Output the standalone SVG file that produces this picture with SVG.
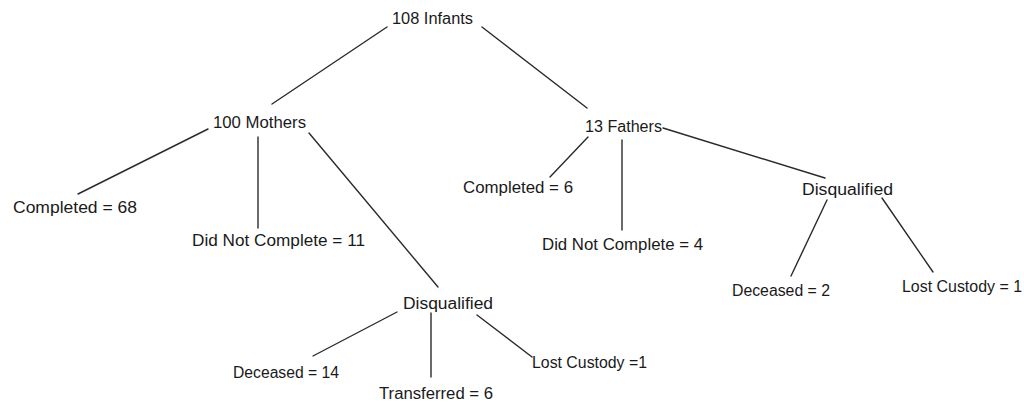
<svg xmlns="http://www.w3.org/2000/svg" width="1024" height="402" viewBox="0 0 1024 402">
<style>
text { font-family: "Liberation Sans", Arial, sans-serif; font-size: 16px; fill: #1a1a1a; }
.c line { stroke: #2a2a2a; stroke-width: 1.4; stroke-linecap: round; }
</style>
<rect width="1024" height="402" fill="#ffffff"/>
<g id="connectors" class="c">
<line x1="387" y1="27" x2="272" y2="104"/>
<line x1="482" y1="27" x2="587" y2="108"/>
<line x1="208" y1="129" x2="78" y2="194"/>
<line x1="258" y1="137" x2="258" y2="228"/>
<line x1="309" y1="133" x2="438" y2="287"/>
<line x1="588" y1="137" x2="550" y2="177"/>
<line x1="622" y1="140" x2="622" y2="230"/>
<line x1="663" y1="128" x2="825" y2="178"/>
<line x1="827" y1="200" x2="791" y2="276"/>
<line x1="882" y1="198" x2="933" y2="272"/>
<line x1="397" y1="312" x2="313" y2="356"/>
<line x1="431" y1="313" x2="431" y2="377"/>
<line x1="477" y1="315" x2="532" y2="357"/>
</g>
<g id="infants"><text x="392" y="24" textLength="81" lengthAdjust="spacingAndGlyphs">108 Infants</text></g>
<g id="mothers"><text x="213" y="128" textLength="93" lengthAdjust="spacingAndGlyphs">100 Mothers</text></g>
<g id="fathers"><text x="585" y="132" textLength="77" lengthAdjust="spacingAndGlyphs">13 Fathers</text></g>
<g id="m-completed"><text x="13" y="213" textLength="124" lengthAdjust="spacingAndGlyphs">Completed =  68</text></g>
<g id="m-dnc"><text x="192" y="246" textLength="173" lengthAdjust="spacingAndGlyphs">Did Not Complete =  11</text></g>
<g id="m-disq"><text x="403" y="309" textLength="90" lengthAdjust="spacingAndGlyphs">Disqualified</text></g>
<g id="m-deceased"><text x="233" y="378" textLength="106" lengthAdjust="spacingAndGlyphs">Deceased = 14</text></g>
<g id="m-transferred"><text x="379" y="399" textLength="114" lengthAdjust="spacingAndGlyphs">Transferred = 6</text></g>
<g id="m-lost"><text x="532" y="368" textLength="115" lengthAdjust="spacingAndGlyphs">Lost Custody =1</text></g>
<g id="f-completed"><text x="463" y="193" textLength="110" lengthAdjust="spacingAndGlyphs">Completed = 6</text></g>
<g id="f-dnc"><text x="542" y="250" textLength="161" lengthAdjust="spacingAndGlyphs">Did Not Complete = 4</text></g>
<g id="f-disq"><text x="802" y="195" textLength="91" lengthAdjust="spacingAndGlyphs">Disqualified</text></g>
<g id="f-deceased"><text x="732" y="296" textLength="98" lengthAdjust="spacingAndGlyphs">Deceased = 2</text></g>
<g id="f-lost"><text x="902" y="292" textLength="120" lengthAdjust="spacingAndGlyphs">Lost Custody = 1</text></g>
</svg>
